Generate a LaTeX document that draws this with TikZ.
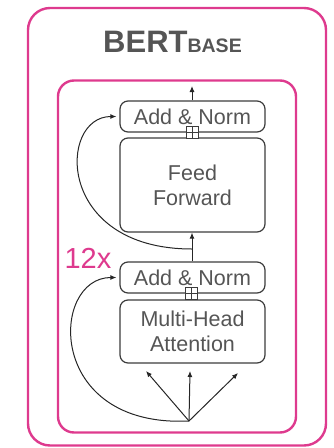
\documentclass[tikz,border=0pt]{standalone}
\usepackage{fontspec}
\setmainfont{Liberation Sans}
\usetikzlibrary{arrows.meta}
\definecolor{bertpink}{HTML}{DE3A8E}
\definecolor{labelgray}{HTML}{555555}
\definecolor{edgegray}{HTML}{3C3C3C}
\tikzset{
  frame/.style={draw=bertpink, line width=2.4pt},
  block/.style={draw=edgegray, line width=1.2pt, rounded corners=8pt,
    minimum width=145pt, inner sep=0pt, align=center, text=labelgray,
    font=\fontsize{21.5}{25}\selectfont},
  plusbox/.style={draw=edgegray, fill=white, line width=1pt,
    minimum size=12pt, inner sep=0pt},
  flow/.style={draw=black!85, line width=1pt,
    -{Latex[length=6pt,width=5pt]}},
}
\begin{document}
\begin{tikzpicture}[x=1pt,y=-1pt]
\useasboundingbox (0,0) rectangle (334,448);
% outer and inner frames
\draw[frame, rounded corners=22pt] (28,8) rectangle (326,445.5);
\draw[frame, rounded corners=16pt] (58,80.5) rectangle (296,432.5);
% title
\node[anchor=base west, inner sep=0pt, text=labelgray] (title) at (103,52)
  {\fontsize{31}{31}\selectfont\bfseries BERT\fontsize{19.5}{19.5}\selectfont BASE};
% repeat count
\node[text=bertpink, inner sep=0pt, font=\fontsize{29}{29}\selectfont] (rep) at (88,258) {12x};
% encoder blocks
\node[block, minimum height=94pt] (ff) at (192.5,185) {Feed\\Forward};
\node[block, minimum height=31pt] (an2) at (192.5,116.5) {Add \& Norm};
\node[block, minimum height=63pt] (mha) at (192.5,331.5) {Multi-Head\\Attention};
\node[block, minimum height=31pt] (an1) at (192.5,277.5) {Add \& Norm};
% residual adders
\node[plusbox] (p2) at (192,132.5) {};
\draw[edgegray, line width=0.8pt] (p2.north) -- (p2.south) (p2.west) -- (p2.east);
\node[plusbox] (p1) at (191.5,293.5) {};
\draw[edgegray, line width=0.8pt] (p1.north) -- (p1.south) (p1.west) -- (p1.east);
% connection points
\coordinate (out) at (192,86);
\coordinate (r2) at (192,249);
\coordinate (fork) at (189,421);
\coordinate (q) at (146,371);
\coordinate (k) at (190,371);
\coordinate (v) at (238,373);
% main flow
\draw[flow] (an2.north -| out) -- (out);
\draw[flow] (an1.north -| r2) -- (ff.south -| r2);
\draw[flow] (fork) -- (q);
\draw[flow] (fork) -- (k);
\draw[flow] (fork) -- (v);
% residual connections
\draw[flow, shorten >=3pt] (r2) .. controls (55,249) and (58,116.5) .. (an2.west);
\draw[flow, shorten >=3pt] (fork) .. controls (45,428) and (50,277.5) .. (an1.west);
\end{tikzpicture}
\end{document}
